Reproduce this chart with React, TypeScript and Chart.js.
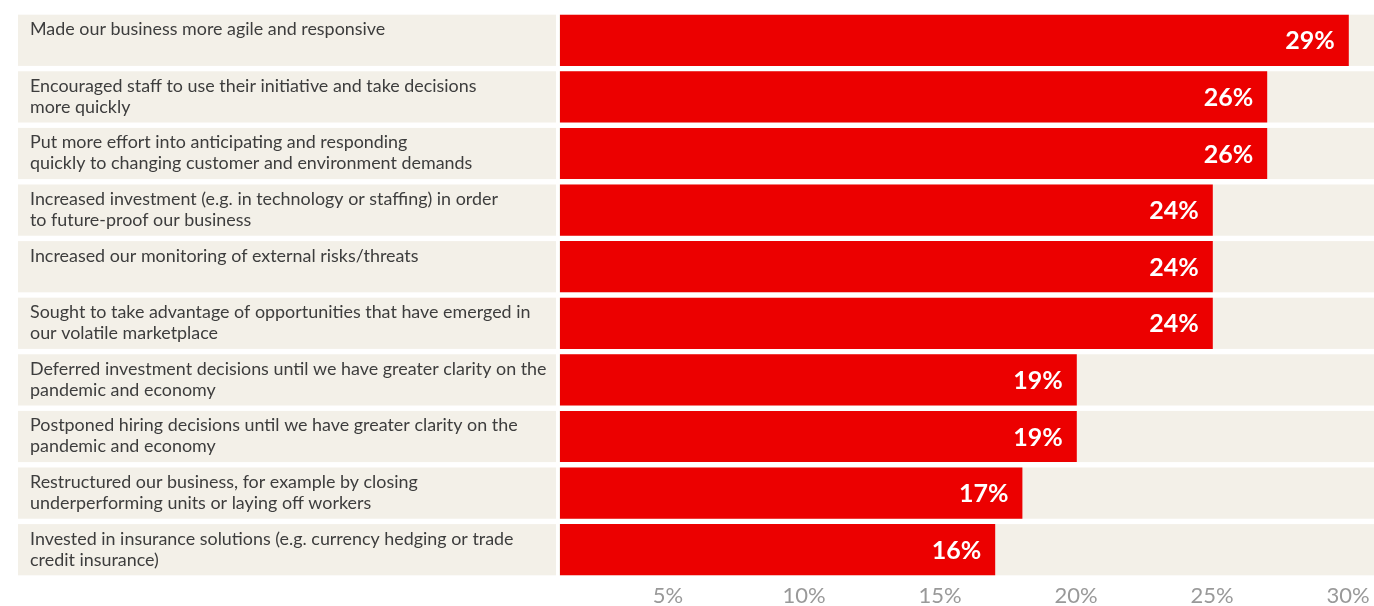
import React, { useEffect, useRef } from "react";
import { Chart, registerables } from "chart.js";

Chart.register(...registerables);

const categories: string[][] = [
  ["Made our business more agile and responsive"],
  ["Encouraged staff to use their initiative and take decisions", "more quickly"],
  ["Put more effort into anticipating and responding", "quickly to changing customer and environment demands"],
  ["Increased investment (e.g. in technology or staffing) in order", "to future-proof our business"],
  ["Increased our monitoring of external risks/threats"],
  ["Sought to take advantage of opportunities that have emerged in", "our volatile marketplace"],
  ["Deferred investment decisions until we have greater clarity on the", "pandemic and economy"],
  ["Postponed hiring decisions until we have greater clarity on the", "pandemic and economy"],
  ["Restructured our business, for example by closing", "underperforming units or laying off workers"],
  ["Invested in insurance solutions (e.g. currency hedging or trade", "credit insurance)"],
];

const values: number[] = [29, 26, 26, 24, 24, 24, 19, 19, 17, 16];

const tickValues: number[] = [5, 10, 15, 20, 25, 30];

const RED = "#ec0000";
const BEIGE = "#f3f0e8";

const rowPlugin = {
  id: "rowPlugin",
  beforeDatasetsDraw(chart: any) {
    const { ctx, chartArea } = chart;
    const meta = chart.getDatasetMeta(0);
    ctx.save();
    ctx.fillStyle = BEIGE;
    meta.data.forEach((bar: any) => {
      const top = bar.y - bar.height / 2;
      ctx.fillRect(18, top, 538, bar.height);
      ctx.fillRect(chartArea.left - 1, top, chart.width - chartArea.left + 1, bar.height);
    });
    ctx.fillStyle = "#3d3d3d";
    ctx.font = "17.9px Lato";
    ctx.textAlign = "left";
    ctx.textBaseline = "alphabetic";
    meta.data.forEach((bar: any, i: number) => {
      const top = bar.y - bar.height / 2;
      categories[i].forEach((line, j) => {
        ctx.fillText(line, 30, top + 20.5 + j * 21);
      });
    });
    ctx.restore();
  },
  afterDatasetsDraw(chart: any) {
    const { ctx } = chart;
    const meta = chart.getDatasetMeta(0);
    ctx.save();
    ctx.fillStyle = "#ffffff";
    ctx.font = "bold 25px Lato";
    ctx.textAlign = "right";
    ctx.textBaseline = "alphabetic";
    meta.data.forEach((bar: any, i: number) => {
      ctx.fillText(values[i] + "%", bar.x - 14, bar.y + 9);
    });
    ctx.restore();
  },
};

export default function App() {
  const canvasRef = useRef<HTMLCanvasElement | null>(null);

  useEffect(() => {
    if (!canvasRef.current) return;
    const chart = new Chart(canvasRef.current, {
      type: "bar",
      data: {
        labels: categories.map((c) => c.join(" ")),
        datasets: [
          {
            data: values,
            backgroundColor: RED,
            borderWidth: 0,
            categoryPercentage: 1,
            barPercentage: 0.905,
          },
        ],
      },
      options: {
        indexAxis: "y",
        animation: false,
        responsive: true,
        maintainAspectRatio: false,
        layout: { padding: { left: 560, top: 12, right: 0, bottom: 0 } },
        plugins: {
          legend: { display: false },
          tooltip: { enabled: false },
        },
        scales: {
          y: {
            display: false,
          },
          x: {
            min: 0,
            max: 30,
            border: { display: false },
            grid: { display: false, drawTicks: false },
            afterFit: (axis: any) => {
              axis.height = 28;
              axis.paddingLeft = 0;
              axis.paddingRight = 0;
            },
            afterBuildTicks: (axis: any) => {
              axis.ticks = tickValues.map((v) => ({ value: v }));
            },
            ticks: {
              padding: 5,
              labelOffset: -28,
              maxRotation: 0,
              color: "#999999",
              font: { family: "Lato", size: 22 },
              callback: (v: any) => v + "%",
            },
          },
        },
      },
      plugins: [rowPlugin],
    });
    return () => chart.destroy();
  }, []);

  return (
    <div style={{ position: "absolute", left: 0, top: 0, width: 1374, height: 606, overflow: "hidden", background: "#fff" }}>
      <div style={{ position: "relative", width: 1376, height: 606 }}>
        <canvas ref={canvasRef} />
      </div>
    </div>
  );
}
